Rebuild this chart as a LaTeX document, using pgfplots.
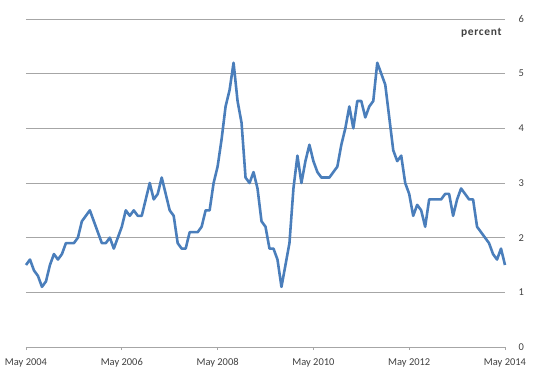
\documentclass[border=0pt]{standalone}
\usepackage{pgfplots}
\pgfplotsset{compat=1.18}
\usepackage{fontspec}
\setmainfont{Carlito}
\newfontfamily\spacedbold[LetterSpace=6]{Carlito}
\definecolor{linecol}{HTML}{4A7EBB}
\definecolor{gridcol}{HTML}{A6A6A6}
\definecolor{txtcol}{HTML}{404040}
\pgfplotstableread{
m v
0 1.5
1 1.6
2 1.4
3 1.3
4 1.1
5 1.2
6 1.5
7 1.7
8 1.6
9 1.7
10 1.9
11 1.9
12 1.9
13 2.0
14 2.3
15 2.4
16 2.5
17 2.3
18 2.1
19 1.9
20 1.9
21 2.0
22 1.8
23 2.0
24 2.2
25 2.5
26 2.4
27 2.5
28 2.4
29 2.4
30 2.7
31 3.0
32 2.7
33 2.8
34 3.1
35 2.8
36 2.5
37 2.4
38 1.9
39 1.8
40 1.8
41 2.1
42 2.1
43 2.1
44 2.2
45 2.5
46 2.5
47 3.0
48 3.3
49 3.8
50 4.4
51 4.7
52 5.2
53 4.5
54 4.1
55 3.1
56 3.0
57 3.2
58 2.9
59 2.3
60 2.2
61 1.8
62 1.8
63 1.6
64 1.1
65 1.5
66 1.9
67 2.9
68 3.5
69 3.0
70 3.4
71 3.7
72 3.4
73 3.2
74 3.1
75 3.1
76 3.1
77 3.2
78 3.3
79 3.7
80 4.0
81 4.4
82 4.0
83 4.5
84 4.5
85 4.2
86 4.4
87 4.5
88 5.2
89 5.0
90 4.8
91 4.2
92 3.6
93 3.4
94 3.5
95 3.0
96 2.8
97 2.4
98 2.6
99 2.5
100 2.2
101 2.7
102 2.7
103 2.7
104 2.7
105 2.8
106 2.8
107 2.4
108 2.7
109 2.9
110 2.8
111 2.7
112 2.7
113 2.2
114 2.1
115 2.0
116 1.9
117 1.7
118 1.6
119 1.8
120 1.5
}\cpidata
\begin{document}
\begin{tikzpicture}
\begin{axis}[
  scale only axis,
  width=479bp, height=328bp,
  xmin=0, xmax=120, ymin=0, ymax=6,
  axis y line*=right,
  axis x line*=bottom,
  y axis line style={draw=none},
  x axis line style={draw=gridcol, line width=0.8pt},
  xtick={0,24,48,72,96,120},
  xticklabels={May 2004,May 2006,May 2008,May 2010,May 2012,May 2014},
  ytick={0,1,2,3,4,5,6},
  ymajorgrids,
  grid style={draw=gridcol, line width=0.8pt},
  major tick length=3bp,
  xtick style={draw=gridcol, line width=0.8pt},
  xtick pos=bottom,
  tick align=outside,
  ytick style={draw=none},
  ytick pos=right,
  tick label style={font=\fontsize{10.5}{12}\selectfont, text=txtcol},
  xticklabel style={yshift=-5bp},
  yticklabel style={xshift=7bp},
  /pgf/number format/assume math mode=true,
  clip=false,
]
\addplot[linecol, line width=2.6pt, line join=round, mark=none] table[x=m,y=v]{\cpidata};
\node[anchor=east, inner sep=0pt, font=\spacedbold\bfseries\fontsize{11.5}{13}\selectfont, text=txtcol] at (axis cs:119.2,5.74) {percent};
\end{axis}
\pgfresetboundingbox
\path[use as bounding box] (-26bp,-38bp) rectangle (512bp,347bp);
\end{tikzpicture}
\end{document}
